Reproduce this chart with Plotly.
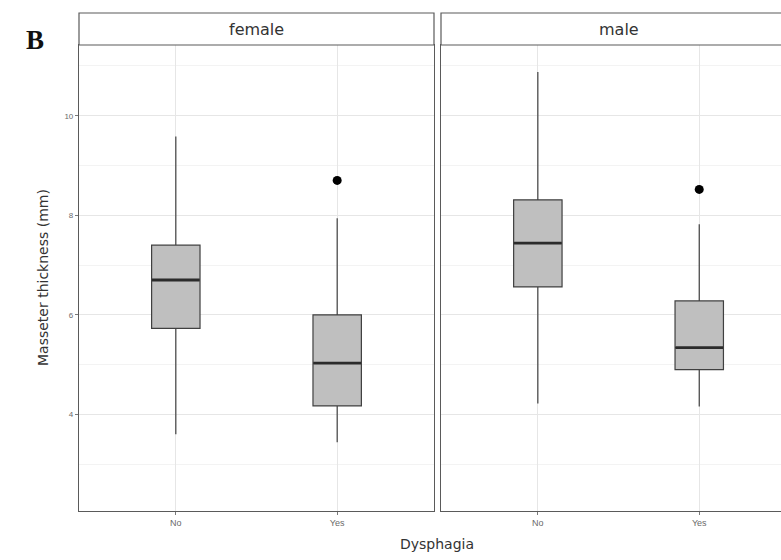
import plotly.graph_objects as go

# ---- data ----
categories = ["No", "Yes"]
panels = ["female", "male"]

female_lower = [3.60, 3.44]
female_q1 = [5.73, 4.17]
female_median = [6.70, 5.03]
female_q3 = [7.40, 6.00]
female_upper = [9.58, 7.94]
female_outlier_x = ["Yes"]
female_outlier_y = [8.70]

male_lower = [4.22, 4.16]
male_q1 = [6.56, 4.90]
male_median = [7.44, 5.34]
male_q3 = [8.31, 6.28]
male_upper = [10.88, 7.82]
male_outlier_x = ["Yes"]
male_outlier_y = [8.52]

y_ticks = [4, 6, 8, 10]

# ---- figure ----
W, H = 781, 560
fig = go.Figure()

FILL = "#bfbfbf"
EDGE = "#404040"
MED = "#2b2b2b"
TITLE_FONT = "DejaVu Sans, Liberation Sans, Arial"

def add_panel(xref, yref, lower, q1, med, q3, upper, ox, oy):
    fig.add_trace(go.Box(
        x=categories, q1=q1, median=med, q3=q3,
        lowerfence=lower, upperfence=upper,
        boxpoints=False, width=0.3, whiskerwidth=0,
        fillcolor=FILL, line=dict(color=EDGE, width=1.2),
        xaxis=xref, yaxis=yref, showlegend=False, hoverinfo="skip"))
    fig.add_trace(go.Scatter(
        x=categories, y=med, mode="markers",
        marker=dict(symbol="line-ew", size=34, line=dict(width=2.8, color=MED)),
        xaxis=xref, yaxis=yref, showlegend=False, hoverinfo="skip"))
    fig.add_trace(go.Scatter(
        x=ox, y=oy, mode="markers",
        marker=dict(color="black", size=9),
        xaxis=xref, yaxis=yref, showlegend=False, hoverinfo="skip"))

add_panel("x", "y", female_lower, female_q1, female_median, female_q3,
          female_upper, female_outlier_x, female_outlier_y)
add_panel("x2", "y2", male_lower, male_q1, male_median, male_q3,
          male_upper, male_outlier_x, male_outlier_y)

px_per_unit = 161.4
left_dom = [79 / W, 434 / W]
right_dom = [441 / W, 1.0]
ydom = [1 - 511 / H, 1 - 45 / H]
right_span = (W - 441) / px_per_unit

grid_major = "#e6e6e6"
grid_minor = "#f3f3f3"
border = "#5a5a5a"

common_x = dict(
    type="category", categoryorder="array", categoryarray=categories,
    showgrid=True, gridcolor=grid_major, gridwidth=1,
    ticks="outside", ticklen=3, tickcolor="#7a7a7a",
    tickfont=dict(family="Liberation Sans, Arial", size=9, color="#6a6a6a"),
    showline=True, linecolor=border, linewidth=1.2, mirror=True,
    zeroline=False, automargin=False,
)
common_y = dict(
    range=[2.06, 11.42], tickvals=y_ticks,
    showgrid=True, gridcolor=grid_major, gridwidth=1,
    minor=dict(dtick=1, tick0=0, showgrid=True, gridcolor=grid_minor, gridwidth=1),
    zeroline=False, automargin=False, domain=ydom,
    showline=True, linecolor=border, linewidth=1.2,
)

fig.update_layout(
    width=W, height=H,
    margin=dict(l=0, r=0, t=0, b=0),
    paper_bgcolor="white", plot_bgcolor="white",
    font=dict(family="Liberation Sans, Arial", color="#333333"),
    xaxis=dict(domain=left_dom, range=[-0.6, 1.6], anchor="y", **common_x),
    xaxis2=dict(domain=right_dom, range=[-0.6, -0.6 + right_span], anchor="y2", **common_x),
    yaxis=dict(anchor="x", mirror=True, ticks="outside", ticklen=3, tickcolor="#7a7a7a",
               tickfont=dict(family="Liberation Sans, Arial", size=8, color="#6a6a6a"),
               **common_y),
    yaxis2=dict(anchor="x2", matches="y", mirror=False, showticklabels=False, ticks="",
                **common_y),
)

# strips
strip_y0 = 1 - 45 / H
strip_y1 = 1 - 13 / H
for dom, label in [(left_dom, panels[0]), (right_dom, panels[1])]:
    fig.add_shape(type="rect", xref="paper", yref="paper",
                  x0=dom[0], x1=dom[1] + (0.01 if dom[1] >= 1 else 0),
                  y0=strip_y0, y1=strip_y1,
                  fillcolor="white", line=dict(color=border, width=1.2), layer="above")
    fig.add_annotation(xref="paper", yref="paper",
                       x=(dom[0] + (434 / W if dom[1] < 1 else 796 / W)) / 2,
                       y=(strip_y0 + strip_y1) / 2,
                       xanchor="center", yanchor="middle",
                       text=label, showarrow=False,
                       font=dict(family=TITLE_FONT, size=16, color="#333333"))

# axis titles
fig.add_annotation(xref="paper", yref="paper", x=437 / W, y=1 - 544 / H,
                   xanchor="center", yanchor="middle",
                   text="Dysphagia", showarrow=False,
                   font=dict(family=TITLE_FONT, size=14, color="#333333"))
fig.add_annotation(xref="paper", yref="paper", x=43 / W, y=1 - 278 / H,
                   xanchor="center", yanchor="middle",
                   text="Masseter thickness (mm)", showarrow=False, textangle=-90,
                   font=dict(family=TITLE_FONT, size=14, color="#333333"))
# panel label
fig.add_annotation(xref="paper", yref="paper", x=35 / W, y=1 - 40 / H,
                   xanchor="center", yanchor="middle",
                   text="<b>B</b>", showarrow=False,
                   font=dict(family="Liberation Serif, DejaVu Serif", size=27, color="#111111"))

fig.write_html("out.html", config={"displayModeBar": False},
               post_script="document.body.style.margin='0px';")
